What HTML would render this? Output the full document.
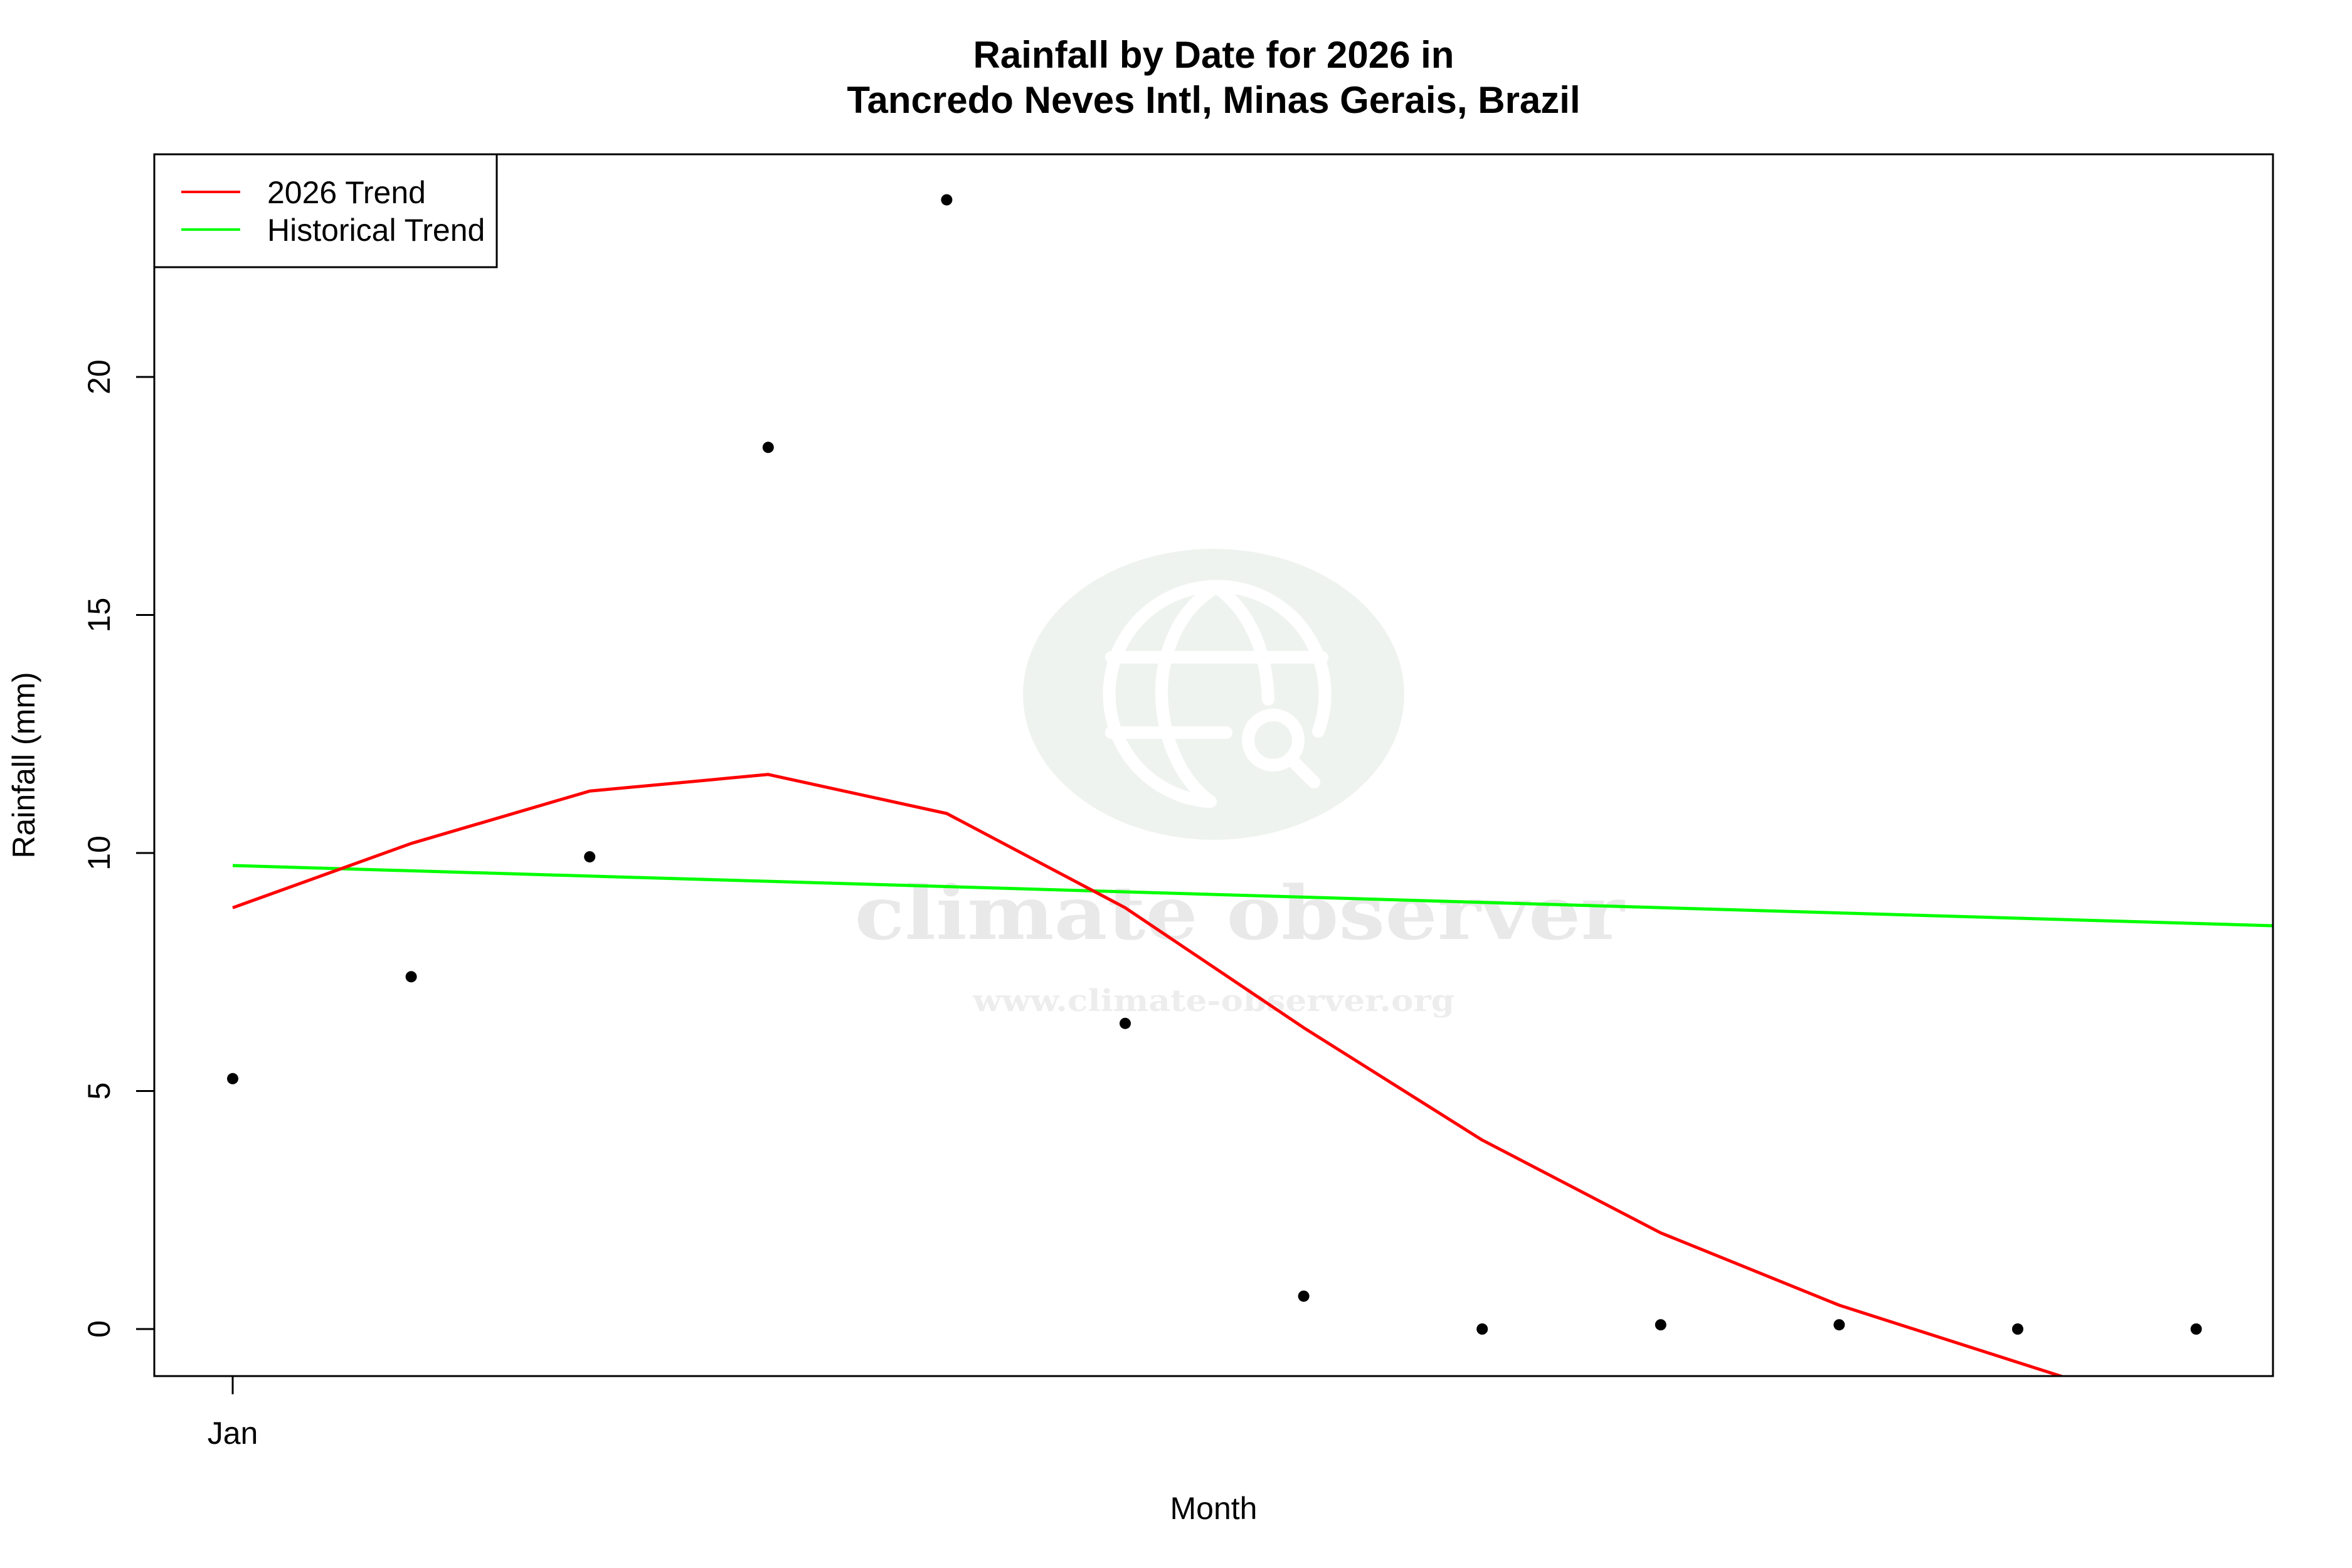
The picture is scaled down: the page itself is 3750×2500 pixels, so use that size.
<!DOCTYPE html>
<html><head><meta charset="utf-8"><style>html,body{margin:0;padding:0;background:#fff}svg{display:block}</style></head>
<body>
<svg width="3750" height="2500" viewBox="0 0 3750 2500" xmlns="http://www.w3.org/2000/svg" font-family="Liberation Sans, sans-serif">
<rect width="3750" height="2500" fill="#fff"/>
<defs><clipPath id="c"><rect x="246" y="246" width="3378" height="1948"/></clipPath></defs>
<!-- watermark -->
<ellipse cx="1935" cy="1107" rx="304" ry="232" fill="#eff3ef"/>
<g fill="none" stroke="#fff" stroke-width="20" stroke-linecap="round">
<path d="M1925 1278 A172 172 0 1 1 2102 1166"/>
<path d="M1940 936 C1870 975 1850 1060 1852 1110 C1855 1190 1890 1250 1930 1278"/>
<path d="M1940 936 C2000 980 2020 1050 2022 1115"/>
<line x1="1772" y1="1048" x2="2108" y2="1048"/>
<line x1="1772" y1="1168" x2="1955" y2="1168"/>
<circle cx="2030" cy="1180" r="40"/>
<line x1="2060" y1="1212" x2="2095" y2="1247"/>
</g>
<text x="1976" y="1497" font-family="DejaVu Serif, serif" font-weight="bold" font-size="118" fill="#e9e9e9" text-anchor="middle" textLength="1227" lengthAdjust="spacingAndGlyphs">climate observer</text>
<text x="1935" y="1612" font-family="DejaVu Serif, serif" font-weight="bold" font-size="48" fill="#ededed" text-anchor="middle" textLength="768" lengthAdjust="spacingAndGlyphs">www.climate-observer.org</text>
<!-- title -->
<text x="1935" y="108" font-size="60" font-weight="bold" text-anchor="middle">Rainfall by Date for 2026 in</text>
<text x="1935" y="180" font-size="60" font-weight="bold" text-anchor="middle">Tancredo Neves Intl, Minas Gerais, Brazil</text>
<!-- series -->
<g clip-path="url(#c)" fill="none" stroke-width="5" stroke-linejoin="round">
<polyline stroke="#00ff00" points="371,1380 3624,1476"/>
<polyline stroke="#ff0000" points="371,1447.3 655.6,1344.8 940.2,1261.3 1224.8,1234.8 1509.4,1297 1794,1447.3 2078.6,1638.6 2363.2,1817.7 2647.8,1965.7 2932.4,2081 3217,2172.1 3501.6,2263"/>
</g>
<g fill="#000">
<circle cx="371" cy="1719.8" r="9"/><circle cx="655.6" cy="1557.3" r="9"/><circle cx="940.2" cy="1366.1" r="9"/><circle cx="1224.8" cy="713.3" r="9"/><circle cx="1509.4" cy="318.6" r="9"/><circle cx="1794" cy="1631.7" r="9"/><circle cx="2078.6" cy="2066.6" r="9"/><circle cx="2363.2" cy="2119" r="9"/><circle cx="2647.8" cy="2112.2" r="9"/><circle cx="2932.4" cy="2112.2" r="9"/><circle cx="3217" cy="2119" r="9"/><circle cx="3501.6" cy="2119" r="9"/>
</g>
<!-- axes -->
<rect x="246" y="246" width="3378" height="1948" fill="none" stroke="#000" stroke-width="3"/>
<g stroke="#000" stroke-width="3">
<line x1="246" y1="2119" x2="217" y2="2119"/><line x1="246" y1="1739.5" x2="217" y2="1739.5"/><line x1="246" y1="1360" x2="217" y2="1360"/><line x1="246" y1="980.5" x2="217" y2="980.5"/><line x1="246" y1="601" x2="217" y2="601"/>
<line x1="371" y1="2194" x2="371" y2="2223"/>
</g>
<g font-size="50" text-anchor="middle">
<text transform="translate(175,2119) rotate(-90)">0</text>
<text transform="translate(175,1739.5) rotate(-90)">5</text>
<text transform="translate(175,1360) rotate(-90)">10</text>
<text transform="translate(175,980.5) rotate(-90)">15</text>
<text transform="translate(175,601) rotate(-90)">20</text>
<text x="371" y="2302">Jan</text>
<text x="1935" y="2422">Month</text>
<text transform="translate(55,1220) rotate(-90)">Rainfall (mm)</text>
</g>
<!-- legend -->
<rect x="246" y="246" width="546" height="180" fill="#fff" stroke="#000" stroke-width="3"/>
<line x1="289" y1="306" x2="383" y2="306" stroke="#ff0000" stroke-width="4"/>
<line x1="289" y1="366" x2="383" y2="366" stroke="#00ff00" stroke-width="4"/>
<text x="426" y="324" font-size="50">2026 Trend</text>
<text x="426" y="384" font-size="50">Historical Trend</text>
</svg>
</body></html>
